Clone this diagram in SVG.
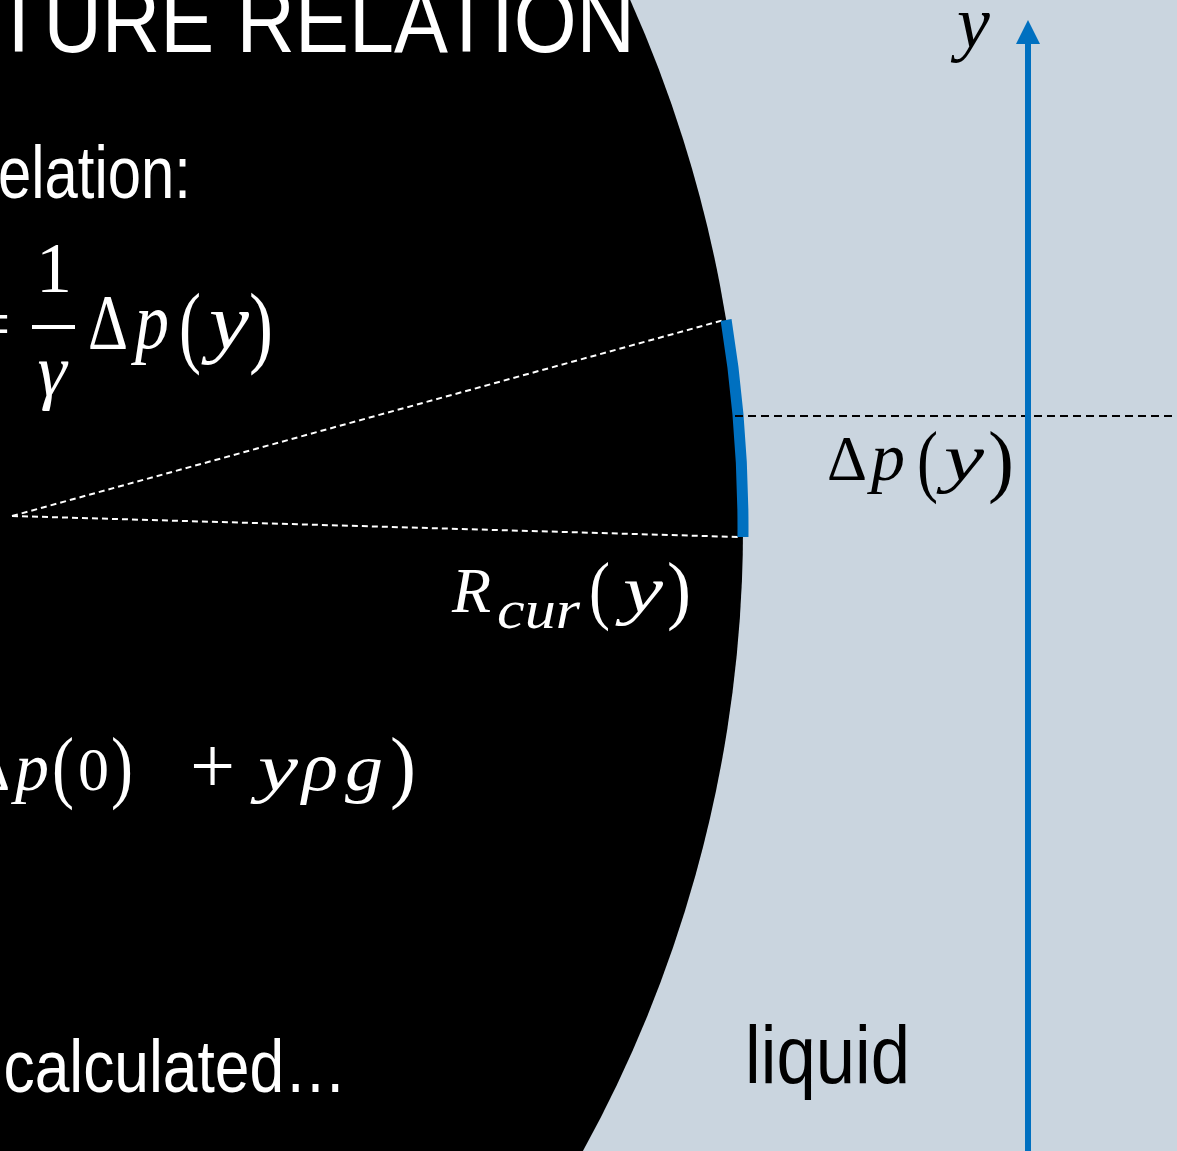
<svg xmlns="http://www.w3.org/2000/svg" width="1177" height="1151" viewBox="0 0 1177 1151">
  <style>
    .sans { font-family: "Liberation Sans", Arial, sans-serif; }
    .m { font-family: "Liberation Serif", "Times New Roman", serif; }
    .i { font-style: italic; }
    .w { fill: #FFFFFF; }
    .k { fill: #000000; }
  </style>

  <rect id="background" x="0" y="0" width="1177" height="1151" fill="#CAD5DF"/>

  <g id="drop">
    <path d="M0,0 L630.2,0 A1292,1292 0 0 1 582.9,1151 L0,1151 Z" fill="#000000"/>
  </g>

  <g id="title">
    <text class="sans w" x="-6" y="52" font-size="90" textLength="641" lengthAdjust="spacingAndGlyphs">TURE RELATION</text>
  </g>

  <g id="relation-label">
    <text class="sans w" x="-2" y="198" font-size="74" textLength="193" lengthAdjust="spacingAndGlyphs">elation:</text>
  </g>

  <g id="equation-1">
    <text class="m w" x="-30" y="348" font-size="72">=</text>
    <text class="m w" x="54" y="292" font-size="72" text-anchor="middle">1</text>
    <line x1="32" y1="327" x2="75" y2="327" stroke="#FFFFFF" stroke-width="4"/>
    <text class="m i w" x="52" y="395" font-size="74" text-anchor="middle">γ</text>
    <text class="m w" x="88" y="348" font-size="78" textLength="40" lengthAdjust="spacingAndGlyphs">Δ</text>
    <text class="m i w" x="135" y="348" font-size="80" textLength="34" lengthAdjust="spacingAndGlyphs">p</text>
    <text class="m w" x="179" y="356" font-size="90" textLength="22" lengthAdjust="spacingAndGlyphs">(</text>
    <text class="m i w" x="209" y="348" font-size="78" textLength="40" lengthAdjust="spacingAndGlyphs">y</text>
    <text class="m w" x="249" y="356" font-size="90" textLength="24" lengthAdjust="spacingAndGlyphs">)</text>
  </g>

  <g id="equation-2">
    <text class="m w" x="-28" y="790" font-size="64" textLength="38" lengthAdjust="spacingAndGlyphs">Δ</text>
    <text class="m i w" x="15" y="790" font-size="68" textLength="34" lengthAdjust="spacingAndGlyphs">p</text>
    <text class="m w" x="52" y="793" font-size="80" textLength="22" lengthAdjust="spacingAndGlyphs">(</text>
    <text class="m w" x="78" y="790" font-size="62">0</text>
    <text class="m w" x="111" y="793" font-size="80" textLength="22" lengthAdjust="spacingAndGlyphs">)</text>
    <text class="m w" x="190" y="793" font-size="80">+</text>
    <text class="m i w" x="258" y="790" font-size="66" textLength="40" lengthAdjust="spacingAndGlyphs">y</text>
    <text class="m i w" x="302" y="790" font-size="70" textLength="36" lengthAdjust="spacingAndGlyphs">ρ</text>
    <text class="m i w" x="345" y="790" font-size="66" textLength="38" lengthAdjust="spacingAndGlyphs">g</text>
    <text class="m w" x="390" y="793" font-size="80" textLength="26" lengthAdjust="spacingAndGlyphs">)</text>
  </g>

  <g id="calculated-label">
    <text class="sans w" x="3.5" y="1092" font-size="74" textLength="343" lengthAdjust="spacingAndGlyphs">calculated…</text>
  </g>

  <g id="connectors">
    <line x1="12" y1="516" x2="724" y2="320" stroke="#FFFFFF" stroke-width="2" stroke-dasharray="6 4"/>
    <line x1="12" y1="516" x2="738" y2="537" stroke="#FFFFFF" stroke-width="2" stroke-dasharray="6 4"/>
    <path d="M726.1,320 A1292,1292 0 0 1 742.97,537" fill="none" stroke="#0070C0" stroke-width="11"/>
    <line x1="735" y1="416" x2="1177" y2="416" stroke="#000000" stroke-width="2" stroke-dasharray="8 5"/>
    <line x1="1028" y1="1151" x2="1028" y2="42" stroke="#0070C0" stroke-width="6"/>
    <polygon points="1028,20 1040,44 1016,44" fill="#0070C0"/>
  </g>

  <g id="radius-label">
    <text class="m i w" x="452" y="612" font-size="64">R</text>
    <text class="m i w" x="497" y="628" font-size="54" textLength="83" lengthAdjust="spacingAndGlyphs">cur</text>
    <text class="m w" x="589" y="615" font-size="76" textLength="21" lengthAdjust="spacingAndGlyphs">(</text>
    <text class="m i w" x="623" y="612" font-size="66" textLength="40" lengthAdjust="spacingAndGlyphs">y</text>
    <text class="m w" x="667" y="615" font-size="76" textLength="24" lengthAdjust="spacingAndGlyphs">)</text>
  </g>

  <g id="pressure-label">
    <text class="m k" x="827" y="480" font-size="64" textLength="40" lengthAdjust="spacingAndGlyphs">Δ</text>
    <text class="m i k" x="871" y="480" font-size="68" textLength="34" lengthAdjust="spacingAndGlyphs">p</text>
    <text class="m k" x="917" y="487" font-size="80" textLength="21" lengthAdjust="spacingAndGlyphs">(</text>
    <text class="m i k" x="944" y="480" font-size="66" textLength="40" lengthAdjust="spacingAndGlyphs">y</text>
    <text class="m k" x="988" y="487" font-size="80" textLength="26" lengthAdjust="spacingAndGlyphs">)</text>
  </g>

  <g id="axis-label">
    <text class="m i k" x="957" y="47" font-size="74">y</text>
  </g>

  <g id="liquid-label">
    <text class="sans k" x="745" y="1083" font-size="82" textLength="165" lengthAdjust="spacingAndGlyphs">liquid</text>
  </g>
</svg>
